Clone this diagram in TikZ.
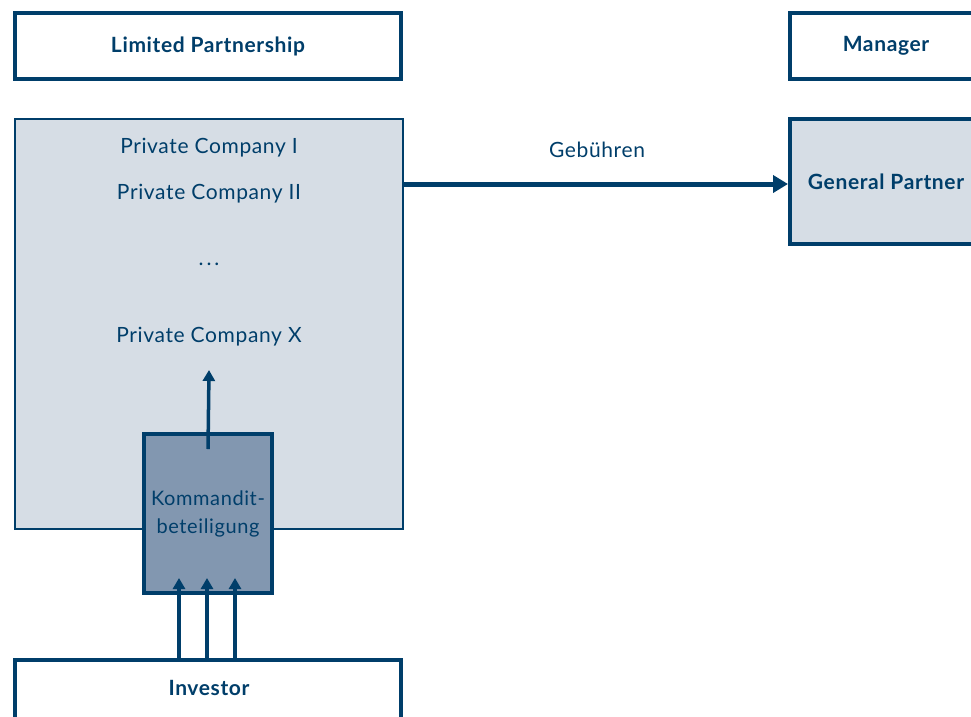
\documentclass[tikz,border=0pt]{standalone}
\usepackage{fontspec}
\setmainfont{Lato}[LetterSpace=3]
\usetikzlibrary{arrows.meta}
\definecolor{navy}{HTML}{003E6A}
\definecolor{paleblue}{HTML}{D6DDE5}
\definecolor{midblue}{HTML}{8297B0}
\tikzset{
  headbox/.style={draw=navy, line width=4pt, fill=white, minimum height=66pt},
  boldlabel/.style={font=\fontsize{21}{25}\selectfont\bfseries, text=navy},
  label/.style={font=\fontsize{21}{25}\selectfont, text=navy},
  flow/.style={draw=navy, line width=5pt, -{Triangle[length=15pt,width=17pt]}},
  thinflow/.style={draw=navy, line width=3.5pt, -{Triangle[length=11pt,width=12pt]}},
}
\begin{document}
\begin{tikzpicture}[x=1pt,y=-1pt]
\useasboundingbox (0,0) rectangle (971,716);

% header boxes
\node[headbox, minimum width=386pt] (lphead) at (208,46) {};
\node[boldlabel] (lptext) at (208,46) {Limited Partnership};
\node[headbox, minimum width=200pt, anchor=west] (mgr) at (788,46) {};
\node[boldlabel] (mgrtext) at (886,46) {Manager};

% limited partnership body
\node[draw=navy, line width=2pt, fill=paleblue, minimum width=388pt, minimum height=410pt]
  (lp) at (209,324) {};
\node[label] (pc1) at (209,148) {Private Company I};
\node[label] (pc2) at (209,194) {Private Company II};
\node[label] (dots) at (209,264) {.\kern3pt.\kern3pt.};
\node[label] (pcx) at (209,337) {Private Company X};

% general partner
\node[draw=navy, line width=4pt, fill=paleblue, minimum width=200pt, minimum height=125pt, anchor=west]
  (gp) at (788,181.5) {};
\node[boldlabel] (gptext) at (886,182) {General Partner};

% fee flow
\node[label] (fee) at (597,150) {Gebühren};
\coordinate (feestart) at (404,184);
\coordinate (feeend) at (788,184);
\draw[flow] (feestart) -- (feeend);

% limited partner interest
\node[draw=navy, line width=4pt, fill=midblue, minimum width=128pt, minimum height=159pt,
  align=center, font=\fontsize{20}{28}\selectfont, text=navy]
  (komm) at (208,513.5) {Kommandit-\\beteiligung};
\draw[thinflow] ([yshift=-17pt]komm.north) -- ([yshift=-20pt]pcx.south);

% investor
\node[headbox, minimum width=386pt, minimum height=70pt] (inv) at (208,695) {};
\node[boldlabel] (invtext) at (209,688) {Investor};
\foreach \dx in {-29,-1,27}
  \draw[thinflow] ([xshift=\dx pt]inv.north) -- ([xshift=\dx pt, yshift=17pt]komm.south);
\end{tikzpicture}
\end{document}
